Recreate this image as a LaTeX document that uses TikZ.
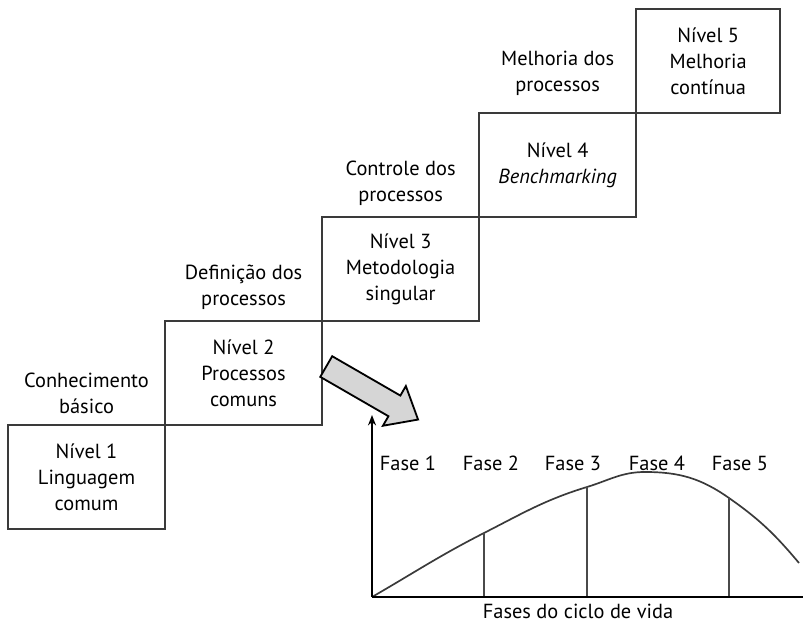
\documentclass[tikz,border=0pt]{standalone}
\usepackage{fontspec}
\setmainfont{PT Sans}
\usetikzlibrary{arrows.meta,positioning,shapes.arrows}
\definecolor{StepLine}{HTML}{3A3A3A}
\definecolor{PhaseLine}{HTML}{4A4A4A}
\definecolor{ShiftFill}{HTML}{D6D6D6}
\tikzset{
  stepBox/.style={
    rectangle, draw=StepLine, line width=1.2pt, fill=none,
    align=center, minimum width=3.925cm, minimum height=2.6cm,
    inner sep=0pt, outer sep=0pt, font=\fontsize{14.5}{18.5}\selectfont
  },
  stepLabel/.style={
    align=center, inner sep=2pt, font=\fontsize{14.5}{18.5}\selectfont
  },
  phaseLabel/.style={
    anchor=center, inner sep=0pt, font=\fontsize{14.5}{18.5}\selectfont
  },
  shiftArrow/.style={
    single arrow, draw=black, fill=ShiftFill, line width=1.3pt,
    minimum height=2.65cm, inner xsep=0pt, inner ysep=0.275cm,
    single arrow head extend=0.275cm, single arrow tip angle=80
  },
  axisLine/.style={draw=black, line width=1.6pt},
  phaseCut/.style={draw=PhaseLine, line width=1pt},
  lifeCurve/.style={draw=StepLine, line width=1.2pt}
}

\begin{document}
\begin{tikzpicture}[x=0.025cm, y=-0.025cm, node distance=0.2cm]
  \useasboundingbox (0,0) rectangle (803,622);

  % staircase of levels
  \node[stepBox, anchor=south west] (n1) at (8,529) {Nível 1\\Linguagem\\comum};
  \node[stepBox, anchor=south west] (n2) at (n1.north east) {Nível 2\\Processos\\comuns};
  \node[stepBox, anchor=south west] (n3) at (n2.north east) {Nível 3\\Metodologia\\singular};
  \node[stepBox, anchor=south west] (n4) at (n3.north east) {Nível 4\\\textit{Benchmarking}};
  \node[stepBox, anchor=south west, minimum width=3.6cm] (n5) at (n4.north east) {Nível 5\\Melhoria\\contínua};

  \node[stepLabel, above=of n1] (l1) {Conhecimento\\básico};
  \node[stepLabel, above=of n2] (l2) {Definição dos\\processos};
  \node[stepLabel, above=of n3] (l3) {Controle dos\\processos};
  \node[stepLabel, above=0.35cm of n4] (l4) {Melhoria dos\\processos};

  % big gray arrow
  \node[shiftArrow, rotate=-30] (shift) at (366,389.5) {};

  % life cycle chart
  \coordinate (o) at (372,597);
  \coordinate (ytop) at (372,415);
  \coordinate (xend) at (803,597);
  \coordinate (c2) at (484,533);
  \coordinate (c3) at (587,487);
  \coordinate (top) at (645,472);
  \coordinate (c5) at (729,498);
  \coordinate (cend) at (799,563);

  \draw[lifeCurve] (o) to[out=30, in=-153] (c2) to[out=27, in=-163] (c3)
    to[out=17, in=180] (top) to[out=0, in=145] (c5) to[out=-35, in=130] (cend);
  \foreach \c in {c2,c3,c5}
    \draw[phaseCut] (\c) -- (\c |- o);
  \draw[axisLine, -{Stealth[length=2.6mm, width=2mm]}] (o) -- (ytop);
  \draw[axisLine] (o) -- (xend);

  \foreach \i/\x in {1/408,2/491,3/573,4/657,5/740}
    \node[phaseLabel] (f\i) at (\x,463) {Fase \i};
  \node[phaseLabel] (xlabel) at (578,611) {Fases do ciclo de vida};
\end{tikzpicture}
\end{document}
